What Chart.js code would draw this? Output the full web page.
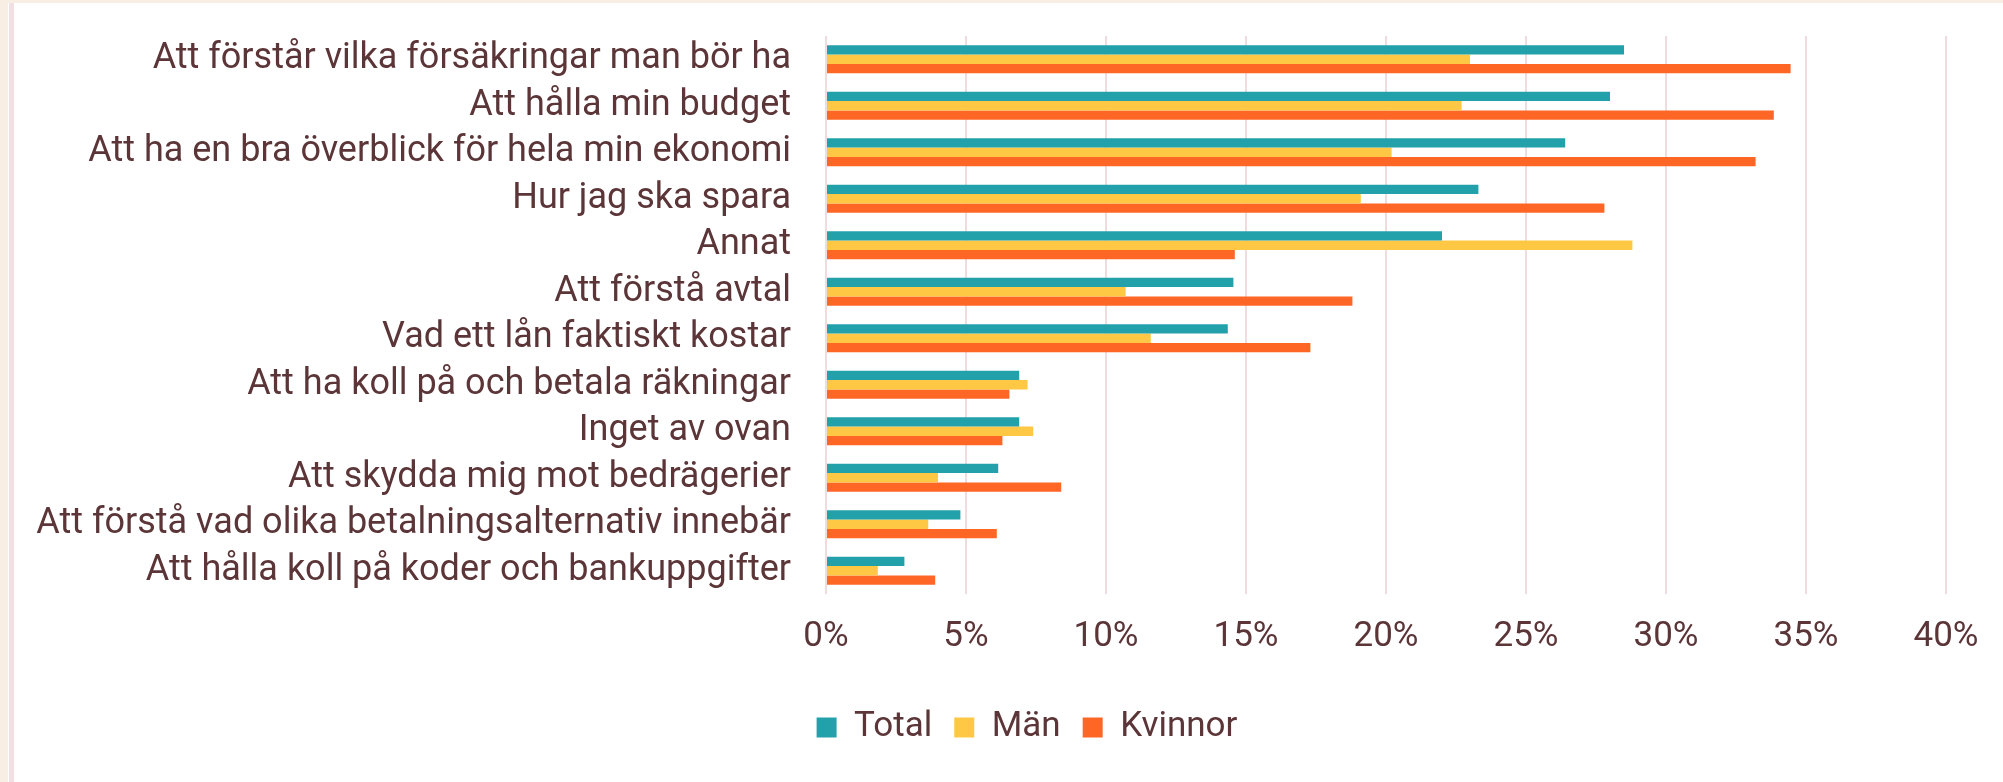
<!DOCTYPE html>
<html>
<head>
  <title>Vad vill du lära dig mer om?</title>
  <script src="https://cdn.jsdelivr.net/npm/chart.js"></script>
  <style>
    html, body { margin: 0; padding: 0; background: #f8eee4; overflow: hidden; }
    #frame {
      position: absolute; left: 8px; top: 3px; width: 1995px; height: 779px;
      background: #fff; padding-left: 1px; box-sizing: border-box;
    }
    #inner {
      width: 100%; height: 100%; border-left: 5px solid #f1dfe3; box-sizing: border-box;
      position: relative;
    }
    #wrap { position: absolute; left: 0; top: 0; width: 1989px; height: 779px; }
  </style>
</head>
<body>
  <div id="frame"><div id="inner">
    <div id="wrap"><canvas id="chart"></canvas></div>
  </div></div>

  <script>
    const categories = [
      'Att förstår vilka försäkringar man bör ha',
      'Att hålla min budget',
      'Att ha en bra överblick för hela min ekonomi',
      'Hur jag ska spara',
      'Annat',
      'Att förstå avtal',
      'Vad ett lån faktiskt kostar',
      'Att ha koll på och betala räkningar',
      'Inget av ovan',
      'Att skydda mig mot bedrägerier',
      'Att förstå vad olika betalningsalternativ innebär',
      'Att hålla koll på koder och bankuppgifter'
    ];

    // percent of respondents
    const total   = [28.5, 28.0, 26.4, 23.3, 22.0, 14.55, 14.35, 6.9, 6.9, 6.15, 4.8, 2.8];
    const man     = [23.0, 22.7, 20.2, 19.1, 28.8, 10.7, 11.6, 7.2, 7.4, 4.0, 3.65, 1.85];
    const kvinnor = [34.45, 33.85, 33.2, 27.8, 14.6, 18.8, 17.3, 6.55, 6.3, 8.4, 6.1, 3.9];

    const xTicks = [0, 5, 10, 15, 20, 25, 30, 35, 40];

    const textColor = '#5b3537';
    const font = { family: 'Roboto', size: 35 };
    const labelFont = { family: 'Roboto', size: 36 };

    // the legend in the original sits a little right of the canvas centre
    const legendShift = {
      id: 'legendShift',
      afterLayout(chart) {
        const lg = chart.legend;
        lg.left += 47;
        lg.right += 47;
        if (lg.legendHitBoxes) lg.legendHitBoxes.forEach(b => { b.left += 47; });
      }
    };

    const ctx = document.getElementById('chart').getContext('2d');
    new Chart(ctx, {
      type: 'bar',
      data: {
        labels: categories,
        datasets: [
          { label: 'Total', data: total, backgroundColor: '#22a1ab' },
          { label: 'Män', data: man, backgroundColor: '#fec845' },
          { label: 'Kvinnor', data: kvinnor, backgroundColor: '#fe6626' }
        ]
      },
      options: {
        indexAxis: 'y',
        responsive: true,
        maintainAspectRatio: false,
        animation: false,
        layout: { padding: { left: 0, right: 57, top: 33, bottom: 27 } },
        datasets: {
          bar: { categoryPercentage: 0.6, barPercentage: 1.0 }
        },
        scales: {
          x: {
            min: 0,
            max: 40,
            afterBuildTicks: axis => { axis.ticks = xTicks.map(v => ({ value: v })); },
            afterFit: axis => { axis.height = 94; },
            ticks: {
              color: textColor,
              font: font,
              padding: 22,
              callback: v => v + '%'
            },
            grid: { color: '#eedcdf', lineWidth: 2, drawTicks: false },
            border: { display: false }
          },
          y: {
            afterFit: axis => {
              axis.width = 812;
              axis.paddingTop = 0;
              axis.paddingBottom = 0;
            },
            ticks: { color: textColor, font: labelFont, padding: 35, autoSkip: false },
            grid: { display: false, drawTicks: false },
            border: { display: false }
          }
        },
        plugins: {
          tooltip: { enabled: false },
          legend: {
            position: 'bottom',
            labels: {
              color: textColor,
              font: font,
              boxWidth: 20,
              boxHeight: 20,
              padding: 22
            }
          }
        }
      },
      plugins: [legendShift]
    });
  </script>
</body>
</html>
